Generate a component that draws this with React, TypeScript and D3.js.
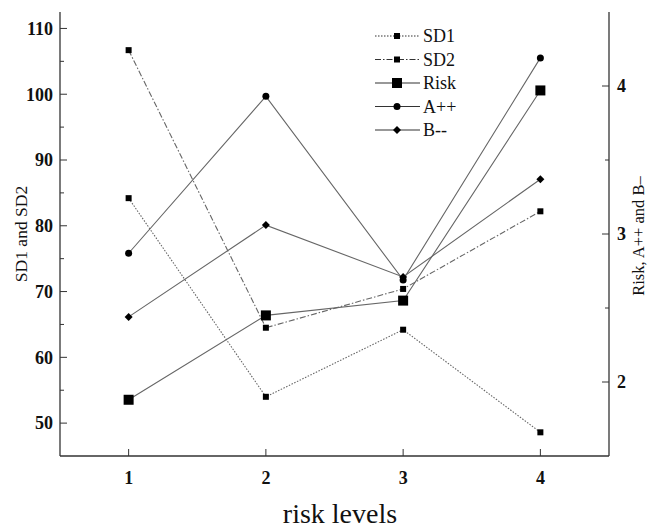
import React, { useEffect, useRef } from 'react';
import * as d3 from 'd3';

const levels = [1, 2, 3, 4];
const sd1 = [84.2, 54.0, 64.2, 48.6];
const sd2 = [106.7, 64.5, 70.4, 82.2];
const risk = [1.88, 2.45, 2.55, 3.97];
const aPlus = [2.87, 3.93, 2.69, 4.19];
const bMinus = [2.44, 3.06, 2.71, 3.37];

const leftTicks = [50, 60, 70, 80, 90, 100, 110];
const leftMinor = [55, 65, 75, 85, 95, 105];
const rightTicks = [2, 3, 4];
const rightMinor = [2.5, 3.5];

const FONT = '"Liberation Serif", "Times New Roman", serif';

const App = () => {
  const svgRef = useRef<SVGSVGElement>(null);
  const width = 650;
  const height = 528;
  const m = { left: 60, right: 41, top: 12, bottom: 72 };

  useEffect(() => {
    const svg = d3.select(svgRef.current);
    svg.selectAll('*').remove();

    const x = d3.scaleLinear().domain([0.5, 4.5]).range([m.left, width - m.right]);
    const yL = d3.scaleLinear().domain([45, 112.5]).range([height - m.bottom, m.top]);
    const yR = d3.scaleLinear().domain([1.5, 4.5]).range([height - m.bottom, m.top]);
    const x0 = m.left, x1 = width - m.right, yb = height - m.bottom;

    const g = svg.append('g');
    const lineColor = '#333';

    // frame
    g.append('line').attr('x1', x0).attr('x2', x0).attr('y1', m.top).attr('y2', yb)
      .attr('stroke', lineColor).attr('stroke-width', 1.3);
    g.append('line').attr('x1', x1).attr('x2', x1).attr('y1', m.top).attr('y2', yb)
      .attr('stroke', lineColor).attr('stroke-width', 1.3);
    g.append('line').attr('x1', x0).attr('x2', x1).attr('y1', yb).attr('y2', yb)
      .attr('stroke', lineColor).attr('stroke-width', 1.3);

    const tickText = (sel: any) => sel
      .attr('font-family', FONT).attr('font-size', 18)
      .attr('font-weight', 'bold').attr('fill', '#111');

    // left axis
    g.selectAll('.lt').data(leftTicks).join('line')
      .attr('x1', x0).attr('x2', x0 + 7).attr('y1', d => yL(d)).attr('y2', d => yL(d))
      .attr('stroke', lineColor);
    g.selectAll('.lm').data(leftMinor).join('line')
      .attr('x1', x0).attr('x2', x0 + 4).attr('y1', d => yL(d)).attr('y2', d => yL(d))
      .attr('stroke', lineColor);
    g.selectAll('.ll').data(leftTicks).join('text')
      .attr('x', x0 - 7).attr('y', d => yL(d)).attr('dy', '0.35em')
      .attr('text-anchor', 'end').call(tickText)
      .text(d => d);

    // right axis
    g.selectAll('.rt').data(rightTicks).join('line')
      .attr('x1', x1).attr('x2', x1 - 7).attr('y1', d => yR(d)).attr('y2', d => yR(d))
      .attr('stroke', lineColor);
    g.selectAll('.rm').data(rightMinor).join('line')
      .attr('x1', x1).attr('x2', x1 - 4).attr('y1', d => yR(d)).attr('y2', d => yR(d))
      .attr('stroke', lineColor);
    g.selectAll('.rl').data(rightTicks).join('text')
      .attr('x', x1 + 8).attr('y', d => yR(d)).attr('dy', '0.35em')
      .attr('text-anchor', 'start').call(tickText)
      .text(d => d);

    // bottom axis
    g.selectAll('.bt').data(levels).join('line')
      .attr('x1', d => x(d)).attr('x2', d => x(d)).attr('y1', yb).attr('y2', yb - 7)
      .attr('stroke', lineColor);
    g.selectAll('.bl').data(levels).join('text')
      .attr('x', d => x(d)).attr('y', yb + 28)
      .attr('text-anchor', 'middle').call(tickText)
      .text(d => d);

    // titles
    g.append('text').attr('transform', 'translate(27,234) rotate(-90)')
      .attr('text-anchor', 'middle').attr('font-family', FONT).attr('font-size', 17.5)
      .attr('fill', '#111').text('SD1 and SD2');
    g.append('text').attr('transform', 'translate(644,236) rotate(-90)')
      .attr('text-anchor', 'middle').attr('font-family', FONT).attr('font-size', 16.5)
      .attr('fill', '#111').text('Risk, A++ and B–');
    g.append('text').attr('x', 340).attr('y', 523)
      .attr('text-anchor', 'middle').attr('font-family', FONT).attr('font-size', 28)
      .attr('fill', '#111').text('risk levels');

    const series = [
      { name: 'SD1', values: sd1, y: yL, dash: '1.5,1.5', marker: 'sq', size: 6 },
      { name: 'SD2', values: sd2, y: yL, dash: '6,2,1.5,2', marker: 'sq', size: 6 },
      { name: 'Risk', values: risk, y: yR, dash: null, marker: 'sq', size: 10 },
      { name: 'A++', values: aPlus, y: yR, dash: null, marker: 'circle', size: 7 },
      { name: 'B--', values: bMinus, y: yR, dash: null, marker: 'diamond', size: 8 },
    ];

    const drawMarker = (sel: any, type: string, size: number, cx: number, cy: number) => {
      if (type === 'sq') {
        sel.append('rect').attr('x', cx - size / 2).attr('y', cy - size / 2)
          .attr('width', size).attr('height', size).attr('fill', '#000');
      } else if (type === 'circle') {
        sel.append('circle').attr('cx', cx).attr('cy', cy).attr('r', size / 2).attr('fill', '#000');
      } else {
        const s = size / 2;
        sel.append('path').attr('d', `M${cx},${cy - s}L${cx + s},${cy}L${cx},${cy + s}L${cx - s},${cy}Z`)
          .attr('fill', '#000');
      }
    };

    series.forEach(s => {
      const line = d3.line<number>().x((_, i) => x(levels[i])).y(d => s.y(d));
      g.append('path').attr('d', line(s.values)).attr('fill', 'none')
        .attr('stroke', '#666').attr('stroke-width', 1.1)
        .attr('stroke-dasharray', s.dash);
      s.values.forEach((v, i) => drawMarker(g, s.marker, s.size, x(levels[i]), s.y(v)));
    });

    // legend
    const lg = g.append('g').attr('transform', 'translate(375,36)');
    series.forEach((s, i) => {
      const yy = i * 23.5;
      lg.append('line').attr('x1', 0).attr('x2', 45).attr('y1', yy).attr('y2', yy)
        .attr('stroke', '#333').attr('stroke-width', 1.1).attr('stroke-dasharray', s.dash);
      drawMarker(lg, s.marker, s.size, 22, yy);
      lg.append('text').attr('x', 48).attr('y', yy).attr('dy', '0.35em')
        .attr('font-family', FONT).attr('font-size', 18).attr('fill', '#111').text(s.name);
    });
  }, []);

  return (
    <svg ref={svgRef} width={width} height={height}
      style={{ position: 'absolute', left: 0, top: 0, background: '#fff' }} />
  );
};

export default App;
